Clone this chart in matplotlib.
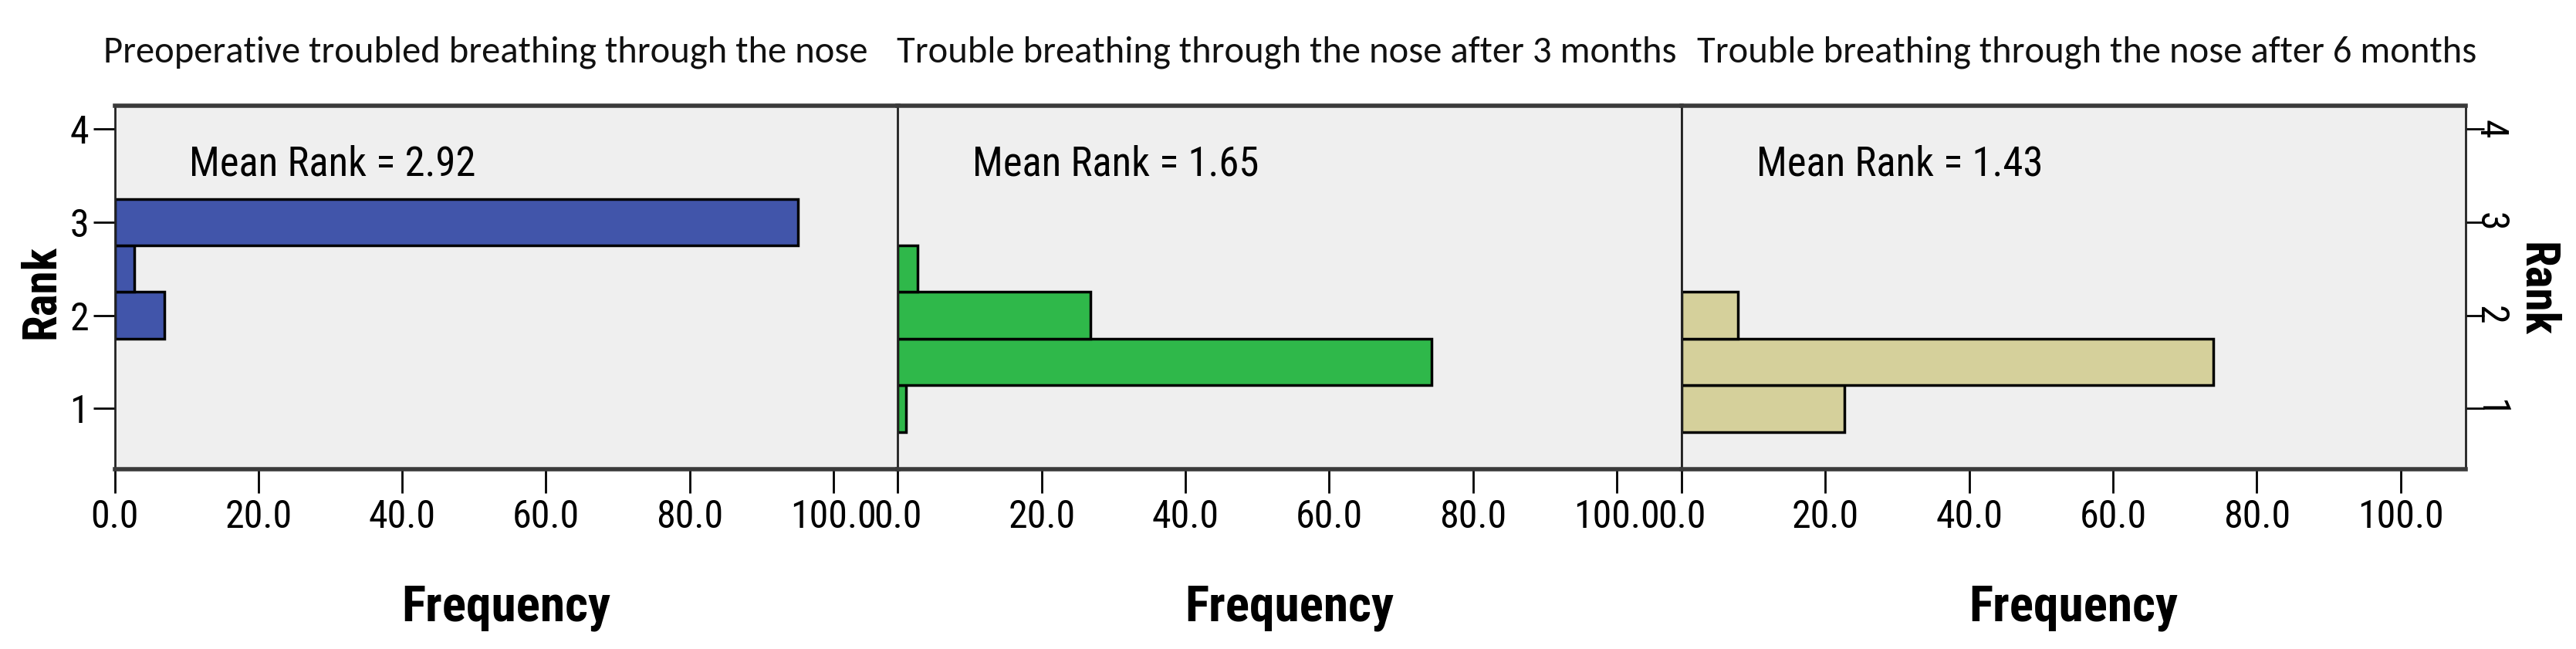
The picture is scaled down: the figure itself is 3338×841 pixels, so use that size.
import matplotlib
matplotlib.use("Agg")
import matplotlib.pyplot as plt

# rank bins (centres) and frequencies
rank_bins = [1.0, 1.5, 2.0, 2.5, 3.0]
freq_preop = [0.0, 0.0, 6.9, 2.7, 95.0]
freq_3m = [1.1, 74.2, 26.8, 2.7, 0.0]
freq_6m = [22.7, 74.0, 7.8, 0.0, 0.0]
mean_ranks = [2.92, 1.65, 1.43]
titles = [
    "Preoperative troubled breathing through the nose",
    "Trouble breathing through the nose after 3 months",
    "Trouble breathing through the nose after 6 months",
]
colors = ["#4155aa", "#2fb84a", "#d5d09b"]
x_ticks = [0, 20, 40, 60, 80, 100]
y_ticks = [1, 2, 3, 4]

narrow = ["Roboto Condensed", "DejaVu Sans"]
title_font = ["Carlito", "DejaVu Sans"]

W, H = 3338, 841
fig = plt.figure(figsize=(W / 100, H / 100), dpi=100)
fig.patch.set_facecolor("white")

lefts = [148.5, 1163.4, 2179.0]
width = 1015.5
top, bottom = 136.7, 608.0
title_x = [134, 1162, 2199]

for i, freqs in enumerate([freq_preop, freq_3m, freq_6m]):
    ax = fig.add_axes([lefts[i] / W, 1 - bottom / H, width / W, (bottom - top) / H])
    ax.set_facecolor("#efefef")
    ys = [r for r, f in zip(rank_bins, freqs) if f > 0]
    ws = [f for f in freqs if f > 0]
    ax.barh(ys, ws, height=0.5, color=colors[i], edgecolor="black", linewidth=2.5)
    ax.set_xlim(0, 109)
    ax.set_ylim(0.35, 4.25)
    ax.set_xticks(x_ticks)
    ax.set_xticklabels(["%.1f" % v for v in x_ticks], family=narrow, fontsize=36)
    ax.tick_params(axis="x", length=22, width=2, pad=5)
    for side in ["top", "bottom"]:
        ax.spines[side].set_linewidth(4)
        ax.spines[side].set_color("#3a3a3a")
    for side in ["left", "right"]:
        ax.spines[side].set_linewidth(2)
        ax.spines[side].set_color("#222222")
    ax.set_yticks(y_ticks)
    if i == 0:
        ax.set_yticklabels([str(v) for v in y_ticks], family=narrow, fontsize=36)
        ax.tick_params(axis="y", length=20, width=2, pad=4)
    elif i == 2:
        ax.yaxis.tick_right()
        ax.set_yticklabels([str(v) for v in y_ticks], family=narrow, fontsize=36,
                           rotation=-90, va="center")
        ax.tick_params(axis="y", length=17, width=2, pad=-11)
    else:
        ax.tick_params(axis="y", left=False, labelleft=False)
    ax.set_xlabel("Frequency", family=narrow, fontsize=47, fontweight="bold")
    ax.xaxis.set_label_coords(0.5, -(757 - bottom) / (bottom - top))
    ax.text(10.4, 3.62, "Mean Rank = %.2f" % mean_ranks[i], family=narrow,
            fontsize=38, va="center", ha="left")
    fig.text(title_x[i] / W, 1 - 68 / H, titles[i], family=title_font,
             fontsize=35, va="center", ha="left", color="#111111")

fig.text(53 / W, 1 - 378 / H, "Rank", family=narrow, fontsize=44, fontweight="bold",
         rotation=90, ha="center", va="center")
fig.text(3287 / W, 1 - 375 / H, "Rank", family=narrow, fontsize=44, fontweight="bold",
         rotation=-90, ha="center", va="center")

fig.savefig("out.png", dpi=100, facecolor="white")
